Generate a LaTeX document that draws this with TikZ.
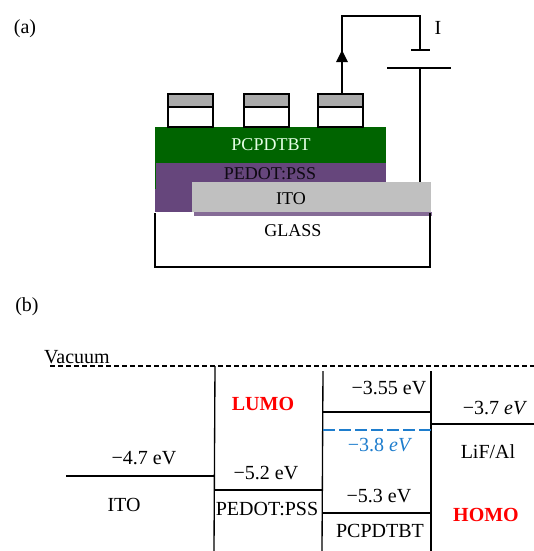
\documentclass[tikz,border=0pt]{standalone}
\usepackage{fontspec}
\setmainfont{Liberation Serif}
\usetikzlibrary{arrows.meta}
\definecolor{cellgreen}{RGB}{0,100,0}
\definecolor{cellpurple}{RGB}{102,70,124}
\definecolor{cellgray}{RGB}{192,192,192}
\definecolor{capgray}{RGB}{170,170,170}
\definecolor{levelblue}{RGB}{30,125,205}
\tikzset{
    wire/.style={draw=black, line width=1pt},
    level/.style={draw=black, line width=1pt},
    lbl/.style={font=\fontsize{13.5}{15}\selectfont, inner sep=0pt},
    big lbl/.style={font=\fontsize{15}{17}\selectfont, inner sep=0pt},
    mark lbl/.style={font=\fontsize{15}{17}\selectfont\bfseries, text=red, inner sep=0pt},
}
\begin{document}
\begin{tikzpicture}[x=0.75pt, y=-0.75pt]
        \useasboundingbox (0,0) rectangle (534,551);

        % layers
        \fill[cellpurple] (155,163) rectangle (386,212);
        \fill[cellpurple!80] (194,212) rectangle (432,216);
        \fill[cellgreen] (155,127) rectangle (386,163);
        \draw[cellgreen] (155,163) -- (155,189);
        \draw[cellgreen] (192,189) -- (386,189);
        \fill[cellgray] (192,182) rectangle (431,212);
        \draw[wire] (155,213) -- (155,267) -- (430,267) -- (430,213);
        % contacts
        \foreach \cx in {168,244,318} {
            \fill[capgray] (\cx,94) rectangle +(45,13);
            \draw[wire] (\cx,94) rectangle +(45,33);
            \draw[wire] (\cx,107) -- +(45,0);
        }
        % circuit
        \coordinate (contact) at (342,93);
        \coordinate (corner1) at (342,16);
        \coordinate (corner2) at (420,16);
        \coordinate (plateA) at (420,50);
        \coordinate (plateB) at (420,68);
        \coordinate (itoend) at (420,182);
        \draw[wire] (contact) -- (corner1) -- (corner2) -- (plateA);
        \draw[wire] (plateB) -- (itoend);
        \draw[wire] (411,50) -- (430,50);
        \draw[wire] (387,68) -- (451,68);
        \fill[black] (342,50) -- (336,62) -- (348,62) -- cycle;

        % labelleds
        \node[big lbl] (a) at (25,29) {(a)};
        \node[big lbl] (i) at (438,28) {I};
        \node[lbl, text=white!90!green] (pcp) at (271,145) {PCPDTBT};
        \node[lbl, text=black!85!cellpurple] (ped) at (270,174) {PEDOT:PSS};
        \node[lbl] (ito) at (291,199) {ITO};
        \node[lbl] (glass) at (293,231) {GLASS};
        \node[big lbl] (b) at (27,307) {(b)};

        %% levels
        \draw[level, dash pattern=on 4pt off 2pt] (50,366) -- (534,366);
        \draw[level] (215,366) -- (214,551);
        \draw[level] (323,371) -- (322,551);
        \draw[level] (431,371) -- (431,551);
        \draw[level] (66,476) -- (214,476);
        \draw[level] (214,490) -- (322,490);
        \draw[level] (323,412) -- (431,412);
        \draw[level] (323,513) -- (431,513);
        \draw[level, draw=levelblue, dash pattern=on 9pt off 3pt] (323,430) -- (431,430);
        \draw[level] (431,424) -- (534,424);

        %% energies
        \node[big lbl] (vac) at (77,357) {Vacuum};
        \node[big lbl] (e47) at (144,458) {−4.7 eV};
        \node[big lbl] (eito) at (124,505) {ITO};
        \node[mark lbl] (lumo) at (263,404) {LUMO};
        \node[big lbl] (e52) at (266,473) {−5.2 eV};
        \node[big lbl] (eped) at (267,509) {PEDOT:PSS};
        \node[big lbl] (e355) at (389,388) {−3.55 eV};
        \node[big lbl, text=levelblue] (e38) at (380,445) {−3.8 \textit{eV}};
        \node[big lbl] (e53) at (379,496) {−5.3 eV};
        \node[big lbl] (epcp) at (380,531) {PCPDTBT};
        \node[big lbl] (e37) at (495,408) {−3.7 \textit{eV}};
        \node[big lbl] (lif) at (488,452) {LiF/Al};
        \node[mark lbl] (homo) at (486,515) {HOMO};
\end{tikzpicture}
\end{document}
